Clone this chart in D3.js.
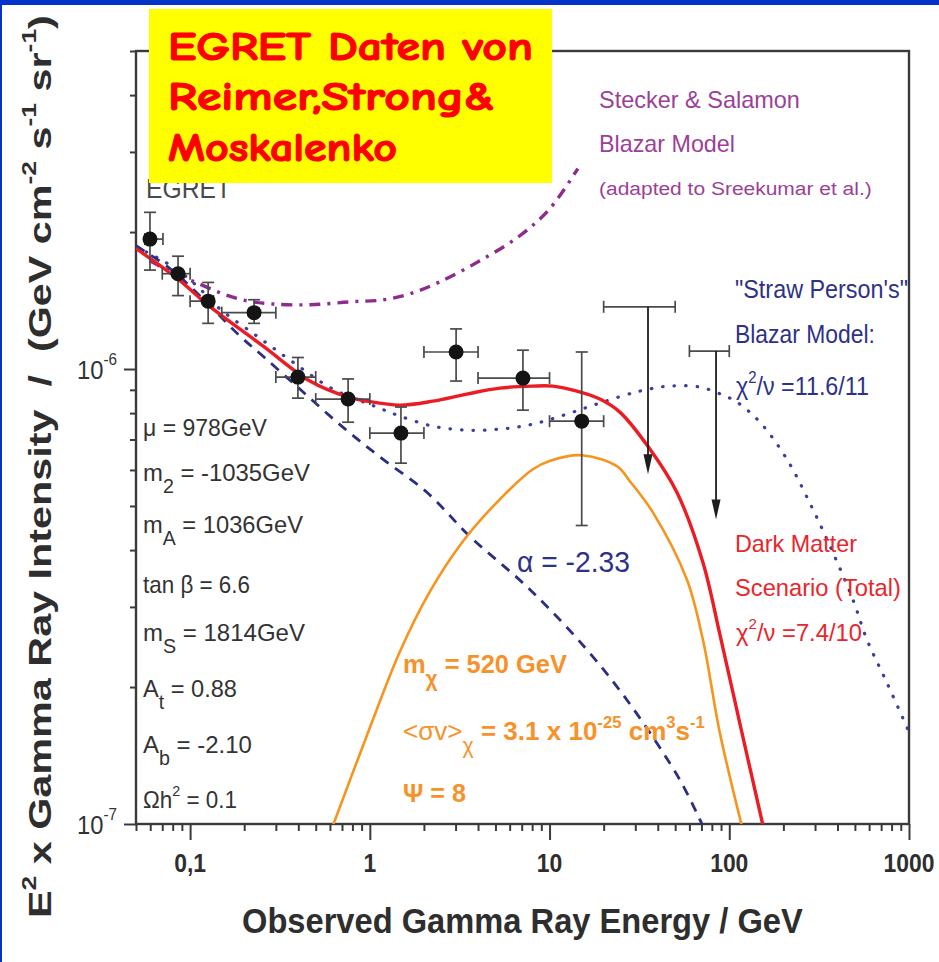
<!DOCTYPE html>
<html>
<head>
<meta charset="utf-8">
<script src="https://cdn.jsdelivr.net/npm/d3@7"></script>
<style>
  body { margin: 0; background: #ffffff; }
  svg { display: block; }
</style>
</head>
<body>
<svg id="chart" width="939" height="962"></svg>
<script>
// ---------- EGRET measurements (E in GeV, E^2 x intensity in GeV cm^-2 s^-1 sr^-1) ----------
const egretEnergy  = [0.0598, 0.0857, 0.126, 0.227, 0.398, 0.757, 1.49, 3.02, 7.11, 15.1];
const egretBinLow  = [0.056, 0.07, 0.1, 0.15, 0.3, 0.5, 1, 2, 4, 10];
const egretBinHigh = [0.0706, 0.1, 0.135, 0.3, 0.5, 1, 2, 4, 10, 20];
const egretFlux    = [1.93e-6, 1.62e-6, 1.41e-6, 1.33e-6, 0.96e-6, 0.859e-6, 0.723e-6, 1.09e-6, 0.955e-6, 0.768e-6];
const egretFluxLow = [1.65e-6, 1.45e-6, 1.26e-6, 1.26e-6, 0.863e-6, 0.764e-6, 0.621e-6, 0.941e-6, 0.812e-6, 0.453e-6];
const egretFluxHigh= [2.21e-6, 1.77e-6, 1.55e-6, 1.42e-6, 1.06e-6, 0.951e-6, 0.825e-6, 1.225e-6, 1.10e-6, 1.09e-6];

// upper limits at the highest energies
const limitEnergy  = [35.3, 84.4];
const limitBinLow  = [20, 60];
const limitBinHigh = [50, 100];
const limitFlux    = [1.37e-6, 1.095e-6];
const limitArrowTo = [0.587e-6, 0.467e-6];

// ---------- model curves: [E, E^2 x intensity] ----------
const darkMatterTotal = [
  [0.05, 1.84e-6], [0.0854, 1.578e-6], [0.1255, 1.384e-6], [0.254, 1.124e-6], [0.464, 0.941e-6],
  [0.754, 0.868e-6], [0.962, 0.850e-6], [1.469, 0.833e-6], [2.242, 0.850e-6], [3.466, 0.881e-6],
  [5.289, 0.908e-6], [8.075, 0.917e-6], [10.43, 0.917e-6], [14.19, 0.894e-6], [19.05, 0.859e-6],
  [24.61, 0.804e-6], [36.15, 0.667e-6], [51.09, 0.536e-6], [71.30, 0.376e-6], [88.65, 0.261e-6],
  [117.5, 0.159e-6], [153.8, 0.0995e-6]
];
const darkMatterSignal = [
  [0.622, 0.099e-6], [0.962, 0.1563e-6], [1.469, 0.2392e-6], [2.158, 0.3243e-6], [3.292, 0.4179e-6],
  [5.289, 0.5172e-6], [8.075, 0.6022e-6], [10.0, 0.628e-6], [15.12, 0.6464e-6], [23.69, 0.6116e-6],
  [27.99, 0.5667e-6], [37.57, 0.4842e-6], [58.07, 0.3447e-6], [71.30, 0.2543e-6], [88.65, 0.1586e-6],
  [117.5, 0.099e-6]
];
const background233 = [
  [0.05, 1.866e-6], [0.0801, 1.644e-6], [0.1338, 1.356e-6], [0.1891, 1.182e-6], [0.2539, 1.068e-6],
  [0.4077, 0.9036e-6], [0.7076, 0.7453e-6], [1.181, 0.6336e-6], [2.076, 0.5359e-6], [3.601, 0.4287e-6],
  [7.771, 0.3277e-6], [16.13, 0.2416e-6], [28.71, 0.1810e-6], [53.10, 0.1250e-6], [71.30, 0.099e-6]
];
const strawPersonBlazar = [
  [0.05, 1.857e-6], [0.0801, 1.678e-6], [0.109, 1.523e-6], [0.1463, 1.356e-6], [0.235, 1.182e-6],
  [0.3728, 1.036e-6], [0.6224, 0.9036e-6], [1.094, 0.8249e-6], [1.469, 0.788e-6], [2.242, 0.7489e-6],
  [3.466, 0.734e-6], [5.289, 0.7377e-6], [8.075, 0.7566e-6], [12.48, 0.7959e-6], [19.05, 0.8416e-6],
  [31.81, 0.8943e-6], [46.71, 0.9174e-6], [68.61, 0.9127e-6], [92.13, 0.8763e-6], [110.2, 0.8461e-6],
  [148.0, 0.7643e-6], [209.2, 0.6336e-6], [291.9, 0.4916e-6], [377.2, 0.3953e-6], [487.4, 0.3114e-6],
  [583.2, 0.2543e-6], [753.4, 0.2045e-6], [1000, 0.1594e-6]
];
const steckerSalamon = [
  [0.0597, 1.729e-6], [0.0843, 1.611e-6], [0.109, 1.547e-6], [0.1521, 1.463e-6], [0.2068, 1.412e-6],
  [0.2885, 1.39e-6], [0.4636, 1.384e-6], [0.774, 1.405e-6], [1.181, 1.419e-6], [1.670, 1.463e-6],
  [2.453, 1.555e-6], [4.093, 1.729e-6], [6.834, 1.963e-6], [10.04, 2.252e-6], [14.37, 2.758e-6]
];

// ---------- axis ticks ----------
const xMajorTicks  = [0.1, 1, 10, 100, 1000];
const xTickLabels  = ["0,1", "1", "10", "100", "1000"];
const yMajorTicks  = [1e-7, 1e-6];
const yTickExponents = ["-7", "-6"];

// ---------- drawing ----------
const SANS = "'Liberation Sans', Arial, Helvetica, sans-serif";
const svg = d3.select("#chart");
const W = 939, H = 962;
const plot = { left: 136, right: 909, top: 51, bottom: 824 };

const x = d3.scaleLog().domain([0.05, 1000]).range([plot.left, plot.right]);
const y = d3.scaleLog().domain([1e-7, 5e-6]).range([plot.bottom, plot.top]);

svg.append("rect").attr("width", W).attr("height", H).attr("fill", "#ffffff");

// text with optional super/subscripts, squeezed/stretched horizontally to a given width
function drawText(parent, o) {
  const size = o.size, anchor = o.anchor || "start";
  const g = parent.append("g");
  const t = g.append("text")
    .attr("font-family", o.family || SANS)
    .attr("font-size", size)
    .attr("font-weight", o.weight || "normal")
    .attr("fill", o.color)
    .style("white-space", "pre");
  if (o.outline) t.attr("stroke", o.color).attr("stroke-width", o.outline).attr("stroke-linejoin", "round");
  let shift = 0;
  o.parts.forEach(p => {
    const part = typeof p === "string" ? { t: p } : p;
    let target = 0, fs = size;
    if (part.k === "sup") { target = -(o.supShift || 0.48) * size; fs = 0.64 * size; }
    if (part.k === "sub") { target = (o.subShift || 0.5) * size; fs = 0.82 * size; }
    const ts = t.append("tspan").text(part.t).attr("font-size", fs);
    if (target - shift !== 0) ts.attr("dy", target - shift);
    if (part.w) ts.attr("font-weight", part.w);
    shift = target;
  });
  const natural = t.node().getComputedTextLength();
  const k = o.width ? o.width / natural : (o.sx || 1);
  const span = natural * k;
  const dx = anchor === "middle" ? -span / 2 : anchor === "end" ? -span : 0;
  g.attr("transform", `translate(${o.x},${o.y}) rotate(${o.rotate || 0}) translate(${dx},0) scale(${k},1)`);
  return g;
}

// clip for model curves
svg.append("defs").append("clipPath").attr("id", "plotClip")
  .append("rect").attr("x", plot.left).attr("y", plot.top)
  .attr("width", plot.right - plot.left).attr("height", plot.bottom - plot.top);

// instrument label, partly covered by the title box
drawText(svg, { x: 146, y: 198, parts: ["EGRET"], size: 27, color: "#4a4a4a", width: 85 });

// ---------- axes ----------
const axisColor = "#3a3a3a";
const xAll = x.ticks();
const yAll = y.ticks();
const xMinor = xAll.filter(v => !xMajorTicks.some(m => Math.abs(m - v) / m < 1e-6));
const yMinor = yAll.filter(v => !yMajorTicks.some(m => Math.abs(m - v) / m < 1e-6));

function styleAxis(g) {
  g.select(".domain").remove();
  g.selectAll(".tick line").attr("stroke", axisColor).attr("stroke-width", 2);
  g.selectAll(".tick text").remove();
}
svg.append("g").attr("transform", `translate(0,${plot.bottom})`)
  .call(d3.axisBottom(x).tickValues(xMinor).tickSize(7).tickFormat(""))
  .call(styleAxis);
svg.append("g").attr("transform", `translate(0,${plot.bottom})`)
  .call(d3.axisBottom(x).tickValues(xMajorTicks).tickSize(16).tickFormat(""))
  .call(styleAxis);
svg.append("g").attr("transform", `translate(${plot.left},0)`)
  .call(d3.axisLeft(y).tickValues(yMinor).tickSize(6).tickFormat(""))
  .call(styleAxis);
svg.append("g").attr("transform", `translate(${plot.left},0)`)
  .call(d3.axisLeft(y).tickValues(yMajorTicks).tickSize(12).tickFormat(""))
  .call(styleAxis);

// frame
svg.append("rect")
  .attr("x", plot.left).attr("y", plot.top)
  .attr("width", plot.right - plot.left).attr("height", plot.bottom - plot.top)
  .attr("fill", "none").attr("stroke", axisColor).attr("stroke-width", 2.4);

// tick labels
xMajorTicks.forEach((v, i) => {
  drawText(svg, { x: x(v), y: 872, parts: [xTickLabels[i]], size: 26, weight: "bold",
    color: "#2e2e2e", anchor: "middle", sx: 0.88 });
});
yMajorTicks.forEach((v, i) => {
  drawText(svg, { x: 117, y: y(v) + 10, parts: ["10", { t: yTickExponents[i], k: "sup" }],
    size: 25, color: "#333333", anchor: "end", width: 40, supShift: 0.55 });
});

// axis titles
drawText(svg, { x: 242, y: 933, parts: ["Observed Gamma Ray Energy / GeV"], size: 36,
  weight: "bold", color: "#2e2e2e", width: 561 });
drawText(svg, { x: 51, y: 918, rotate: -90, size: 32, weight: "bold", color: "#2e2e2e", width: 903,
  parts: ["E", { t: "2", k: "sup" }, " x Gamma Ray Intensity  /  (GeV cm", { t: "-2", k: "sup" },
    " s", { t: "-1", k: "sup" }, " sr", { t: "-1", k: "sup" }, ")"] });

// ---------- model curves ----------
const line = d3.line().x(d => x(d[0])).y(d => y(d[1])).curve(d3.curveCatmullRom.alpha(0.5));
const curves = svg.append("g").attr("clip-path", "url(#plotClip)");

curves.append("path").datum(steckerSalamon).attr("d", line)
  .attr("fill", "none").attr("stroke", "#8e2c8e").attr("stroke-width", 3.4)
  .attr("stroke-dasharray", "11,7,3,7");
curves.append("path").datum(strawPersonBlazar).attr("d", line)
  .attr("fill", "none").attr("stroke", "#3b3f9a").attr("stroke-width", 3.2)
  .attr("stroke-linecap", "round").attr("stroke-dasharray", "0.5,11");
curves.append("path").datum(background233).attr("d", line)
  .attr("fill", "none").attr("stroke", "#2b2e83").attr("stroke-width", 2.8)
  .attr("stroke-dasharray", "10,8");
curves.append("path").datum(darkMatterSignal).attr("d", line)
  .attr("fill", "none").attr("stroke", "#f7941d").attr("stroke-width", 2.6);
curves.append("path").datum(darkMatterTotal).attr("d", line)
  .attr("fill", "none").attr("stroke", "#ec1c24").attr("stroke-width", 3.4);

// ---------- data points ----------
const barColor = "#4a4a4a";
const cap = 6;
const pts = svg.append("g").attr("stroke", barColor).attr("stroke-width", 1.7);
egretEnergy.forEach((e, i) => {
  const cx = x(e), cy = y(egretFlux[i]);
  const x0 = x(egretBinLow[i]), x1 = x(egretBinHigh[i]);
  const y0 = y(egretFluxLow[i]), y1 = y(egretFluxHigh[i]);
  pts.append("line").attr("x1", x0).attr("x2", x1).attr("y1", cy).attr("y2", cy);
  pts.append("line").attr("x1", x0).attr("x2", x0).attr("y1", cy - cap).attr("y2", cy + cap);
  pts.append("line").attr("x1", x1).attr("x2", x1).attr("y1", cy - cap).attr("y2", cy + cap);
  pts.append("line").attr("x1", cx).attr("x2", cx).attr("y1", y0).attr("y2", y1);
  pts.append("line").attr("x1", cx - cap).attr("x2", cx + cap).attr("y1", y0).attr("y2", y0);
  pts.append("line").attr("x1", cx - cap).attr("x2", cx + cap).attr("y1", y1).attr("y2", y1);
});
svg.append("g").selectAll("circle").data(egretEnergy).join("circle")
  .attr("cx", d => x(d)).attr("cy", (d, i) => y(egretFlux[i])).attr("r", 7.5)
  .attr("fill", "#141414");

// upper limits with arrows
limitEnergy.forEach((e, i) => {
  const cx = x(e), cy = y(limitFlux[i]), tip = y(limitArrowTo[i]);
  const x0 = x(limitBinLow[i]), x1 = x(limitBinHigh[i]);
  pts.append("line").attr("x1", x0).attr("x2", x1).attr("y1", cy).attr("y2", cy);
  pts.append("line").attr("x1", x0).attr("x2", x0).attr("y1", cy - cap).attr("y2", cy + cap);
  pts.append("line").attr("x1", x1).attr("x2", x1).attr("y1", cy - cap).attr("y2", cy + cap);
  svg.append("line").attr("x1", cx).attr("x2", cx).attr("y1", cy).attr("y2", tip - 14)
    .attr("stroke", "#1e1e1e").attr("stroke-width", 1.8);
  svg.append("path").attr("d", `M${cx - 4.5},${tip - 20} L${cx + 4.5},${tip - 20} L${cx},${tip} Z`)
    .attr("fill", "#1e1e1e");
});

// ---------- annotations ----------
const paramColor = "#333333";
const params = [
  { y: 436, w: 124, parts: ["μ = 978GeV"] },
  { y: 481, w: 167, parts: ["m", { t: "2", k: "sub" }, " = -1035GeV"] },
  { y: 533, w: 160, parts: ["m", { t: "A", k: "sub" }, " = 1036GeV"] },
  { y: 593, w: 107, parts: ["tan β = 6.6"] },
  { y: 641, w: 162, parts: ["m", { t: "S", k: "sub" }, " = 1814GeV"] },
  { y: 697, w: 94, parts: ["A", { t: "t", k: "sub" }, " = 0.88"] },
  { y: 753, w: 109, parts: ["A", { t: "b", k: "sub" }, " = -2.10"] },
  { y: 808, w: 94, parts: ["Ωh", { t: "2", k: "sup" }, " = 0.1"] }
];
params.forEach(p => drawText(svg, { x: 143, y: p.y, parts: p.parts, size: 24, color: paramColor, width: p.w }));

const orange = "#f7922a";
drawText(svg, { x: 403, y: 673, size: 26, weight: "bold", color: orange, width: 164,
  parts: ["m", { t: "χ", k: "sub" }, " = 520 GeV"] });
drawText(svg, { x: 403, y: 740, size: 26, weight: "bold", color: orange, width: 302,
  parts: [{ t: "<σv>", w: "normal" }, { t: "χ", k: "sub", w: "normal" }, " = 3.1 x 10", { t: "-25", k: "sup" },
    " cm", { t: "3", k: "sup" }, "s", { t: "-1", k: "sup" }] });
drawText(svg, { x: 403, y: 802, size: 26, weight: "bold", color: orange, width: 63, parts: ["Ψ = 8"] });

const purple = "#9c3f98";
drawText(svg, { x: 599, y: 108, size: 23, color: purple, width: 201, parts: ["Stecker & Salamon"] });
drawText(svg, { x: 599, y: 152, size: 23, color: purple, width: 136, parts: ["Blazar Model"] });
drawText(svg, { x: 599, y: 195, size: 19, color: purple, width: 273, parts: ["(adapted to Sreekumar et al.)"] });

const navy = "#2e3287";
drawText(svg, { x: 735, y: 298, size: 25, color: navy, width: 173, parts: ["\"Straw Person's\""] });
drawText(svg, { x: 735, y: 343, size: 25, color: navy, width: 140, parts: ["Blazar Model:"] });
drawText(svg, { x: 736, y: 395, size: 25, color: navy, width: 133,
  parts: ["χ", { t: "2", k: "sup" }, "/ν =11.6/11"] });
drawText(svg, { x: 517, y: 572, size: 29, color: navy, width: 113, parts: ["α = -2.33"] });

const red = "#e8262c";
drawText(svg, { x: 735, y: 552, size: 24, color: red, width: 122, parts: ["Dark Matter"] });
drawText(svg, { x: 735, y: 596, size: 24, color: red, width: 166, parts: ["Scenario (Total)"] });
drawText(svg, { x: 736, y: 641, size: 24, color: red, width: 126,
  parts: ["χ", { t: "2", k: "sup" }, "/ν =7.4/10"] });

// ---------- title box ----------
svg.append("rect").attr("x", 149).attr("y", 9).attr("width", 403).attr("height", 174).attr("fill", "#ffff00");
const boxFont = "'Comic Sans MS', 'Comic Neue', 'DejaVu Sans', sans-serif";
const boxText = { size: 40, weight: "bold", color: "#ff0000", family: boxFont, outline: 1.2 };
drawText(svg, Object.assign({ x: 168, y: 60, width: 365, parts: ["EGRET Daten von"] }, boxText));
drawText(svg, Object.assign({ x: 168, y: 110, width: 327, parts: ["Reimer,Strong&"] }, boxText));
drawText(svg, Object.assign({ x: 168, y: 161, width: 229, parts: ["Moskalenko"] }, boxText));

// ---------- slide frame ----------
svg.append("rect").attr("x", 0).attr("y", 0).attr("width", W).attr("height", 5).attr("fill", "#0533c9");
svg.append("rect").attr("x", 0).attr("y", 0).attr("width", 2).attr("height", H).attr("fill", "#0533c9");
</script>
</body>
</html>
